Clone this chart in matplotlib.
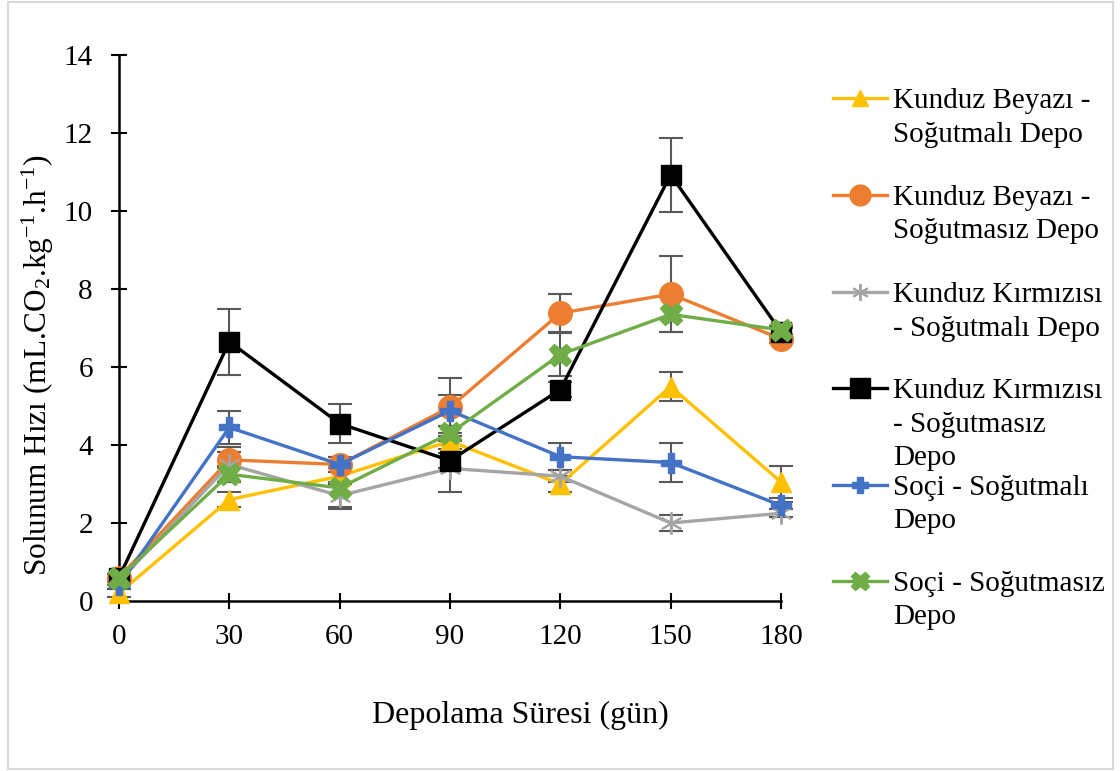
import matplotlib
matplotlib.use("Agg")
import matplotlib.pyplot as plt
from matplotlib.lines import Line2D
from matplotlib.patches import Rectangle

FAM = ['Liberation Serif', 'DejaVu Serif']
plt.rcParams['font.family'] = 'serif'
plt.rcParams['font.serif'] = FAM
plt.rcParams['mathtext.fontset'] = 'custom'
plt.rcParams['mathtext.rm'] = 'Liberation Serif'
plt.rcParams['mathtext.it'] = 'Liberation Serif'

days = [0, 30, 60, 90, 120, 150, 180]

kb_sogutmali = [0.2, 2.6, 3.2, 4.1, 3.0, 5.5, 3.05]
kb_sogutmali_err = [0.1, 0.2, 0.2, 0.2, 0.2, 0.37, 0.42]
kb_sogutmasiz = [0.6, 3.62, 3.5, 4.97, 7.38, 7.87, 6.72]
kb_sogutmasiz_err = [0.1, 0.2, 0.2, 0.75, 0.48, 0.98, 0.1]
kk_sogutmali = [0.5, 3.5, 2.7, 3.4, 3.2, 2.0, 2.25]
kk_sogutmali_err = [0.1, 0.45, 0.35, 0.6, 0.15, 0.2, 0.1]
kk_sogutmasiz = [0.6, 6.65, 4.55, 3.6, 5.42, 10.93, 6.9]
kk_sogutmasiz_err = [0.1, 0.85, 0.5, 0.2, 0.2, 0.95, 0.1]
soci_sogutmali = [0.4, 4.45, 3.5, 4.88, 3.7, 3.55, 2.45]
soci_sogutmali_err = [0.1, 0.43, 0.2, 0.4, 0.35, 0.5, 0.1]
soci_sogutmasiz = [0.6, 3.25, 2.9, 4.3, 6.32, 7.35, 6.95]
soci_sogutmasiz_err = [0.1, 0.2, 0.5, 0.2, 0.55, 0.45, 0.1]

labels = ["Kunduz Beyazı -\nSoğutmalı Depo",
          "Kunduz Beyazı -\nSoğutmasız Depo",
          "Kunduz Kırmızısı\n- Soğutmalı Depo",
          "Kunduz Kırmızısı\n- Soğutmasız\nDepo",
          "Soçi - Soğutmalı\nDepo",
          "Soçi - Soğutmasız\nDepo"]

W, H = 1120, 771
fig = plt.figure(figsize=(W / 100, H / 100), dpi=100)
ax = fig.add_axes([119 / W, 1 - 601 / H, (781 - 119) / W, (601 - 55) / H])

series = [
    (kb_sogutmali, kb_sogutmali_err, '#FFC000', '^', 14, {}),
    (kb_sogutmasiz, kb_sogutmasiz_err, '#ED7D31', 'o', 17, {}),
    (kk_sogutmali, kk_sogutmali_err, '#A5A5A5', (6, 2, 0), 16, {'markeredgewidth': 1.4}),
    (kk_sogutmasiz, kk_sogutmasiz_err, '#000000', 's', 15, {}),
    (soci_sogutmali, soci_sogutmali_err, '#4472C4', 'P', 15, {}),
    (soci_sogutmasiz, soci_sogutmasiz_err, '#70AD47', 'X', 16, {}),
]

for vals, err, col, mk, ms, extra in series:
    ax.errorbar(days, vals, yerr=err, fmt='none', ecolor='#595959',
                elinewidth=1.5, capsize=8.5, capthick=1.5, zorder=2)
    ax.plot(days, vals, color=col, lw=2.4, marker=mk, markersize=ms,
            markerfacecolor=col, markeredgecolor=col, zorder=3, **extra)

ax.set_xlim(0, 180)
ax.set_ylim(0, 14)
ax.set_xticks(days)
ax.set_yticks(range(0, 15, 2))
for side in ['top', 'right']:
    ax.spines[side].set_visible(False)
for side in ['left', 'bottom']:
    ax.spines[side].set_linewidth(1.8)
ax.tick_params(direction='inout', length=11.5, width=1.5, labelsize=21)
ax.tick_params(axis='x', pad=11)
ax.tick_params(axis='y', pad=13)
for lbl in ax.get_xticklabels() + ax.get_yticklabels():
    lbl.set_fontfamily(FAM)
for a in ax.get_children():
    try:
        a.set_clip_on(False)
    except Exception:
        pass

fig.text(520 / W, 1 - 715 / H, "Depolama Süresi (gün)", fontsize=23,
         ha='center', va='center', family=FAM)
fig.text(38 / W, 1 - 365 / H,
         r"Solunum Hızı (mL.CO$_2$.kg$^{\mathregular{-1}}$.h$^{\mathregular{-1}}$)",
         fontsize=22.5, rotation=90, ha='center', va='center', family=FAM)

# legend drawn manually (Excel style)
leg_y = [98, 195, 292, 388, 485, 581]
leg_ms = [12, 15, 12, 15, 12, 13]
for (vals, err, col, mk, ms, extra), lab, yy, lms in zip(series, labels, leg_y, leg_ms):
    fy = 1 - yy / H
    fig.add_artist(Line2D([833 / W, 887 / W], [fy, fy], color=col, lw=2.4,
                          transform=fig.transFigure))
    fig.add_artist(Line2D([860 / W], [fy], color=col, marker=mk, markersize=lms,
                          markerfacecolor=col, markeredgecolor=col,
                          transform=fig.transFigure, **extra))
    for i, line in enumerate(lab.split('\n')):
        fig.text(893 / W, 1 - (yy + 10 + i * 33.5) / H, line, fontsize=21,
                 ha='left', va='baseline', family=FAM)

fig.add_artist(Rectangle((8 / W, 1 - 769 / H), (1113 - 8) / W, (769 - 2) / H,
                         transform=fig.transFigure, fill=False,
                         edgecolor='#d9d9d9', lw=1.5))

fig.savefig("out.png", dpi=100)
